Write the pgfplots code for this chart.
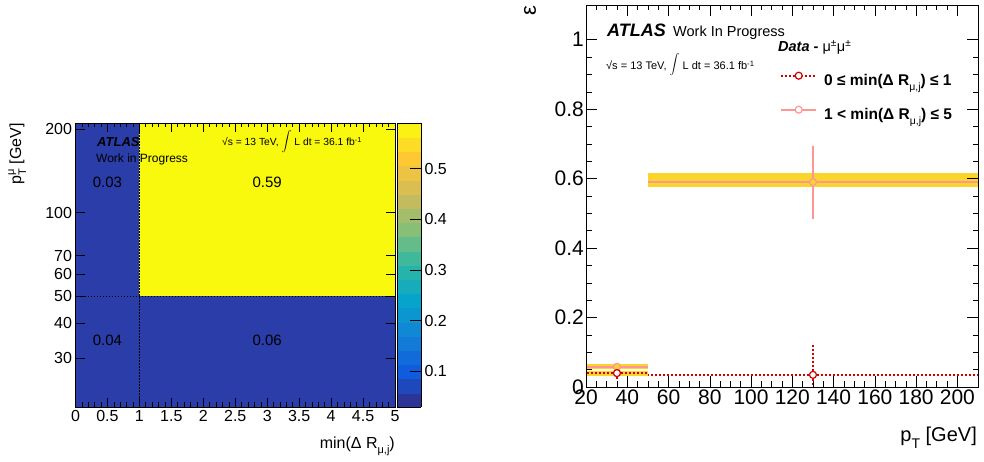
\documentclass[border=0pt]{standalone}
\usepackage{fontspec}
\setmainfont{Liberation Sans}
\usepackage{pgfplots}
\pgfplotsset{compat=1.18}

\definecolor{cellblue}{RGB}{42,61,168}
\definecolor{cellyellow}{RGB}{249,249,14}
\definecolor{dred}{RGB}{210,0,0}
\definecolor{lpink}{RGB}{255,150,150}
\definecolor{bandcol}{RGB}{250,214,45}

\newcommand{\fs}[1]{\fontsize{#1}{#1}\selectfont}

\begin{document}
\begin{tikzpicture}[x=1pt,y=1pt]
\useasboundingbox (0,0) rectangle (984,462);
%================ LEFT PANEL ================
\begin{axis}[
  at={(75.5pt,55pt)}, anchor=south west, scale only axis,
  width=319.5pt, height=284pt,
  xmin=0, xmax=5, ymin=20, ymax=210, ymode=log,
  xtick={0,0.5,1,1.5,2,2.5,3,3.5,4,4.5,5},
  xticklabels={0,0.5,1,1.5,2,2.5,3,3.5,4,4.5,5},
  minor x tick num=4,
  ytick={30,40,50,60,70,100,200},
  yticklabels={30,40,50,60,70,100,200},
  yminorticks=false,
  tick align=inside,
  major tick length=9pt, minor tick length=4.5pt,
  every tick/.style={black, line width=0.6pt},
  axis line style={line width=0.8pt},
  ticklabel style={font=\fs{16}},
  axis on top,
  colormap={bird}{rgb255=(53,42,135) rgb255=(15,92,221) rgb255=(20,129,214) rgb255=(6,164,202) rgb255=(46,183,164) rgb255=(135,191,119) rgb255=(209,187,89) rgb255=(254,200,50) rgb255=(249,251,14)},
  point meta min=0.03, point meta max=0.59,
  colorbar sampled,
  colorbar shift/.style={xshift=2pt},
  colorbar style={
    at={(parent axis.north east)}, anchor=north west,
    width=24pt, samples=21,
    ytick={0.1,0.2,0.3,0.4,0.5},
    yticklabels={0.1,0.2,0.3,0.4,0.5},
    yticklabel style={font=\fs{16}},
    tick align=inside, ytick pos=right, yticklabel pos=right,
    major tick length=11pt,
    every tick/.style={black, line width=0.6pt},
    axis line style={line width=0.6pt},
  },
]
\addplot[draw=none, fill=cellblue] coordinates {(0,20)(1,20)(1,50)(0,50)} -- cycle;
\addplot[draw=none, fill=cellblue] coordinates {(1,20)(5,20)(5,50)(1,50)} -- cycle;
\addplot[draw=none, fill=cellblue] coordinates {(0,50)(1,50)(1,210)(0,210)} -- cycle;
\addplot[draw=none, fill=cellyellow] coordinates {(1,50)(5,50)(5,210)(1,210)} -- cycle;
\addplot[black, dash pattern=on 1.5pt off 1.5pt, line width=0.8pt] coordinates {(1,20)(1,210)};
\addplot[black, dash pattern=on 1.5pt off 1.5pt, line width=0.8pt] coordinates {(0,50)(5,50)};
\node[font=\fs{15}] at (axis cs:0.5,128) {0.03};
\node[font=\fs{15}] at (axis cs:3.0,128) {0.59};
\node[font=\fs{15}] at (axis cs:0.5,34.8) {0.04};
\node[font=\fs{15}] at (axis cs:3.0,34.8) {0.06};
\end{axis}
\node[anchor=base west, font=\fs{13}\bfseries\itshape, inner sep=0] at (97,315) {ATLAS};
\node[anchor=base west, font=\fs{12}, inner sep=0] at (96,299) {Work in Progress};
\node[anchor=base west, font=\fs{10.3}, inner sep=0] at (222,316) {√s = 13 TeV, \raisebox{3pt}{\fs{7.5}$\displaystyle\int$} L dt = 36.1 fb\textsuperscript{-1}};
\node[rotate=90, anchor=base east, font=\fs{16}, inner sep=0] at (21,339) {p\rlap{\raisebox{7pt}{\fs{11}μ}}\raisebox{-5pt}{\fs{11}T} [GeV]};
\node[anchor=base east, font=\fs{16}, inner sep=0] at (395,13) {min(Δ R\raisebox{-5pt}{\fs{11}μ,j})};
%================ RIGHT PANEL ================
\begin{axis}[
  at={(586pt,75pt)}, anchor=south west, scale only axis,
  width=392pt, height=382pt,
  xmin=20, xmax=210, ymin=0, ymax=1.1,
  xtick={20,40,...,200}, xticklabels={20,40,60,80,100,120,140,160,180,200},
  minor x tick num=3,
  ytick={0,0.2,0.4,0.6,0.8,1}, yticklabels={0,0.2,0.4,0.6,0.8,1},
  minor y tick num=3,
  tick align=inside,
  major tick length=11pt, minor tick length=5.5pt,
  every tick/.style={black, line width=0.6pt},
  axis line style={line width=0.8pt},
  ticklabel style={font=\fs{21}},
  yticklabel style={inner xsep=2pt},
  xticklabel style={inner ysep=3pt},
  axis on top,
  legend cell align=left,
  legend image code/.code={%
    \path (0pt,0pt) (42pt,0pt);
    \draw[mark repeat=2, mark phase=2, #1] plot coordinates {(0pt,6pt) (17.5pt,6pt) (35pt,6pt)};},
  legend style={at={(rel axis cs:0.4949,0.8246)}, anchor=north west,
    draw=none, fill=none, inner sep=0pt, row sep=17pt,
    nodes={inner sep=0pt, text height=11pt, text depth=4pt},
    font=\fs{15.5}\bfseries},
]
\addlegendimage{dred, dash pattern=on 2pt off 2pt, line width=2pt, mark=*, mark size=3.5pt, mark options={solid, fill=white, line width=1.2pt}}
\addlegendentry{0 ≤ min(Δ R\raisebox{-5pt}{\fs{10.5}\mdseries μ,j}) ≤ 1}
\addlegendimage{lpink, line width=2pt, mark=*, mark size=3.5pt, mark options={solid, fill=white, line width=1.2pt}}
\addlegendentry{1 < min(Δ R\raisebox{-5pt}{\fs{10.5}\mdseries μ,j}) ≤ 5}
% systematic bands
\addplot[draw=none, fill=bandcol] coordinates {(50,0.575)(210,0.575)(210,0.615)(50,0.615)} -- cycle;
\addplot[draw=none, fill=bandcol] coordinates {(20,0.052)(50,0.052)(50,0.066)(20,0.066)} -- cycle;
\addplot[draw=none, fill=bandcol] coordinates {(20,0.033)(50,0.033)(50,0.047)(20,0.047)} -- cycle;
% 1 < min dR <= 5
\addplot[lpink, only marks, mark=*, mark size=3.5pt, mark options={fill=bandcol, line width=1.2pt},
  error bars/.cd, x dir=both, x explicit, y dir=both, y explicit, error mark=none,
  error bar style={lpink, line width=2pt}]
  coordinates {(35,0.058) +- (15,0.006) (130,0.59) +- (80,0.105)};
% 0 <= min dR <= 1
\addplot[dred, only marks, mark=*, mark size=3.5pt, mark options={fill=white, line width=1.2pt, solid},
  error bars/.cd, x dir=both, x explicit, y dir=both, y explicit, error mark=none,
  error bar style={dred, line width=2pt, dash pattern=on 2pt off 2pt}]
  coordinates {(35,0.040) +- (15,0.018) (130,0.035) += (80,0.086) -= (80,0.035)};
\end{axis}
\node[anchor=base west, font=\fs{18}\bfseries\itshape, inner sep=0] at (607,425) {ATLAS};
\node[anchor=base west, font=\fs{14.5}, inner sep=0] at (673,425) {Work In Progress};
\node[anchor=base west, font=\fs{11}, inner sep=0] at (606,392) {√s = 13 TeV, \raisebox{3pt}{\fs{8}$\displaystyle\int$} L dt = 36.1 fb\textsuperscript{-1}};
\node[anchor=base west, font=\fs{14.5}, inner sep=0] at (778,410) {\textbf{\textit{Data} -} μ\textsuperscript{±}μ\textsuperscript{±}};
\node[rotate=90, font=\fs{22}, inner sep=0] at (530,451) {ε};
\node[anchor=base east, font=\fs{20}, inner sep=0] at (977,20) {p\raisebox{-7pt}{\fs{14}T} [GeV]};
\end{tikzpicture}
\end{document}
